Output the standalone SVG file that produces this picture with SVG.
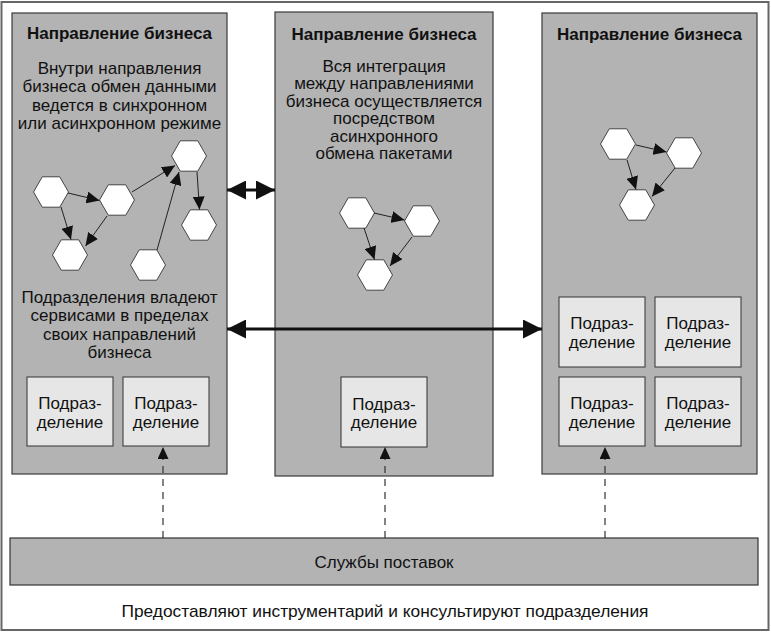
<svg xmlns="http://www.w3.org/2000/svg" width="771" height="634" viewBox="0 0 771 634">
<style>
text{font-family:"Liberation Sans",Arial,sans-serif;fill:#111;text-anchor:middle}
.t{font-size:17px;font-weight:bold}
.b{font-size:17px}
.s{font-size:17px}
.panel{fill:#b3b3b3;stroke:#3a3a3a;stroke-width:1.2}
.sub{fill:#e6e6e6;stroke:#333;stroke-width:1}
.hex{fill:#fff;stroke:#444;stroke-width:1}
.c{stroke:#222;stroke-width:1;fill:none;marker-end:url(#ah)}
.d{stroke:#333;stroke-width:1.2;stroke-dasharray:7 6;fill:none;marker-end:url(#dh)}
.big{stroke:#111;stroke-width:3;fill:none;marker-start:url(#bs);marker-end:url(#be)}
</style>
<defs>
<path id="hx" d="M17.5,0 L8.75,15.2 L-8.75,15.2 L-17.5,0 L-8.75,-15.2 L8.75,-15.2 Z"/>
<marker id="ah" markerUnits="userSpaceOnUse" markerWidth="14" markerHeight="12" refX="13" refY="6" orient="auto"><path d="M0,0 L13,6 L0,12 Z" fill="#111"/></marker>
<marker id="dh" markerUnits="userSpaceOnUse" markerWidth="12" markerHeight="12" refX="12" refY="5.5" orient="auto"><path d="M0,0 L12,5.5 L0,11 Z" fill="#111"/></marker>
<marker id="be" markerUnits="userSpaceOnUse" markerWidth="20" markerHeight="20" refX="19" refY="9.5" orient="auto"><path d="M0,0 L19,9.5 L0,19 Z" fill="#111"/></marker>
<marker id="bs" markerUnits="userSpaceOnUse" markerWidth="20" markerHeight="20" refX="0" refY="9.5" orient="auto"><path d="M19,0 L0,9.5 L19,19 Z" fill="#111"/></marker>
</defs>
<rect x="1.5" y="2" width="767" height="628" fill="#fff" stroke="#666" stroke-width="2"/>

<g id="panel-left">
<rect class="panel" x="12" y="13" width="215" height="461"/>
<text class="t" x="119.5" y="38.5">Направление бизнеса</text>
<text class="b" x="119.5" y="73.5">Внутри направления</text>
<text class="b" x="119.5" y="92">бизнеса обмен данными</text>
<text class="b" x="119.5" y="110.5">ведется в синхронном</text>
<text class="b" x="119.5" y="129">или асинхронном режиме</text>
<text class="b" x="119.5" y="302.5">Подразделения владеют</text>
<text class="b" x="119.5" y="321">сервисами в пределах</text>
<text class="b" x="119.5" y="339.5">своих направлений</text>
<text class="b" x="119.5" y="358">бизнеса</text>
</g>
<g id="panel-middle">
<rect class="panel" x="275" y="12" width="218" height="464"/>
<text class="t" x="384" y="39.5">Направление бизнеса</text>
<text class="b" x="384" y="71.5">Вся интеграция</text>
<text class="b" x="384" y="89">между направлениями</text>
<text class="b" x="384" y="106.5">бизнеса осуществляется</text>
<text class="b" x="384" y="124">посредством</text>
<text class="b" x="384" y="141.5">асинхронного</text>
<text class="b" x="384" y="159">обмена пакетами</text>
</g>
<g id="panel-right">
<rect class="panel" x="542" y="13" width="215" height="461"/>
<text class="t" x="649.5" y="39.5">Направление бизнеса</text>
</g>

<g id="unit-l1"><rect class="sub" x="27" y="377" width="86" height="69"/><text class="s" x="70" y="409">Подраз-</text><text class="s" x="70" y="427.5">деление</text></g>
<g id="unit-l2"><rect class="sub" x="123" y="377" width="86" height="69"/><text class="s" x="166" y="409">Подраз-</text><text class="s" x="166" y="427.5">деление</text></g>
<g id="unit-m1"><rect class="sub" x="341" y="377" width="86" height="70"/><text class="s" x="384" y="409.5">Подраз-</text><text class="s" x="384" y="428">деление</text></g>
<g id="unit-r1"><rect class="sub" x="559" y="297" width="86" height="70"/><text class="s" x="602" y="329">Подраз-</text><text class="s" x="602" y="347.5">деление</text></g>
<g id="unit-r2"><rect class="sub" x="655" y="297" width="86" height="70"/><text class="s" x="698" y="329">Подраз-</text><text class="s" x="698" y="347.5">деление</text></g>
<g id="unit-r3"><rect class="sub" x="559" y="377" width="86" height="69"/><text class="s" x="602" y="409">Подраз-</text><text class="s" x="602" y="427.5">деление</text></g>
<g id="unit-r4"><rect class="sub" x="655" y="377" width="86" height="69"/><text class="s" x="698" y="409">Подраз-</text><text class="s" x="698" y="427.5">деление</text></g>

<g id="hex-l1"><use href="#hx" class="hex" x="51" y="192"/></g>
<g id="hex-l2"><use href="#hx" class="hex" x="117" y="200"/></g>
<g id="hex-l3"><use href="#hx" class="hex" x="70" y="255"/></g>
<g id="hex-l4"><use href="#hx" class="hex" x="189" y="156"/></g>
<g id="hex-l5"><use href="#hx" class="hex" x="199" y="225"/></g>
<g id="hex-l6"><use href="#hx" class="hex" x="148" y="265"/></g>
<g id="hex-m1"><use href="#hx" class="hex" x="357" y="213"/></g>
<g id="hex-m2"><use href="#hx" class="hex" x="422" y="221"/></g>
<g id="hex-m3"><use href="#hx" class="hex" x="375" y="275"/></g>
<g id="hex-r1"><use href="#hx" class="hex" x="618" y="144"/></g>
<g id="hex-r2"><use href="#hx" class="hex" x="684" y="153"/></g>
<g id="hex-r3"><use href="#hx" class="hex" x="637" y="205"/></g>

<g id="supply">
<rect x="10" y="538" width="748" height="47" fill="#b3b3b3" stroke="#333" stroke-width="1.2"/>
<text class="b" x="384" y="568">Службы поставок</text>
</g>
<text class="b" x="385" y="617" textLength="527" lengthAdjust="spacingAndGlyphs">Предоставляют инструментарий и консультируют подразделения</text>

<g id="connectors">
<line class="c" x1="68" y1="193" x2="99.5" y2="200.5"/>
<line class="c" x1="61" y1="207" x2="71" y2="239.5"/>
<line class="c" x1="107" y1="216" x2="85.5" y2="246"/>
<line class="c" x1="132" y1="192" x2="175" y2="165.5"/>
<line class="c" x1="157" y1="250" x2="179" y2="172"/>
<line class="c" x1="197" y1="172" x2="199.5" y2="209.5"/>
<line class="c" x1="374" y1="213" x2="404.5" y2="220"/>
<line class="c" x1="364" y1="228" x2="374.5" y2="259.5"/>
<line class="c" x1="412" y1="237" x2="390" y2="266"/>
<line class="c" x1="636" y1="145" x2="666.5" y2="152"/>
<line class="c" x1="627" y1="160" x2="636" y2="189.5"/>
<line class="c" x1="675" y1="168" x2="652" y2="196.5"/>
<line class="big" x1="227" y1="190" x2="275" y2="190"/>
<line class="big" x1="227" y1="329" x2="542" y2="329"/>
<line class="d" x1="163" y1="538" x2="163" y2="447"/>
<line class="d" x1="385" y1="538" x2="385" y2="447"/>
<line class="d" x1="605" y1="538" x2="605" y2="447"/>
</g>
</svg>
